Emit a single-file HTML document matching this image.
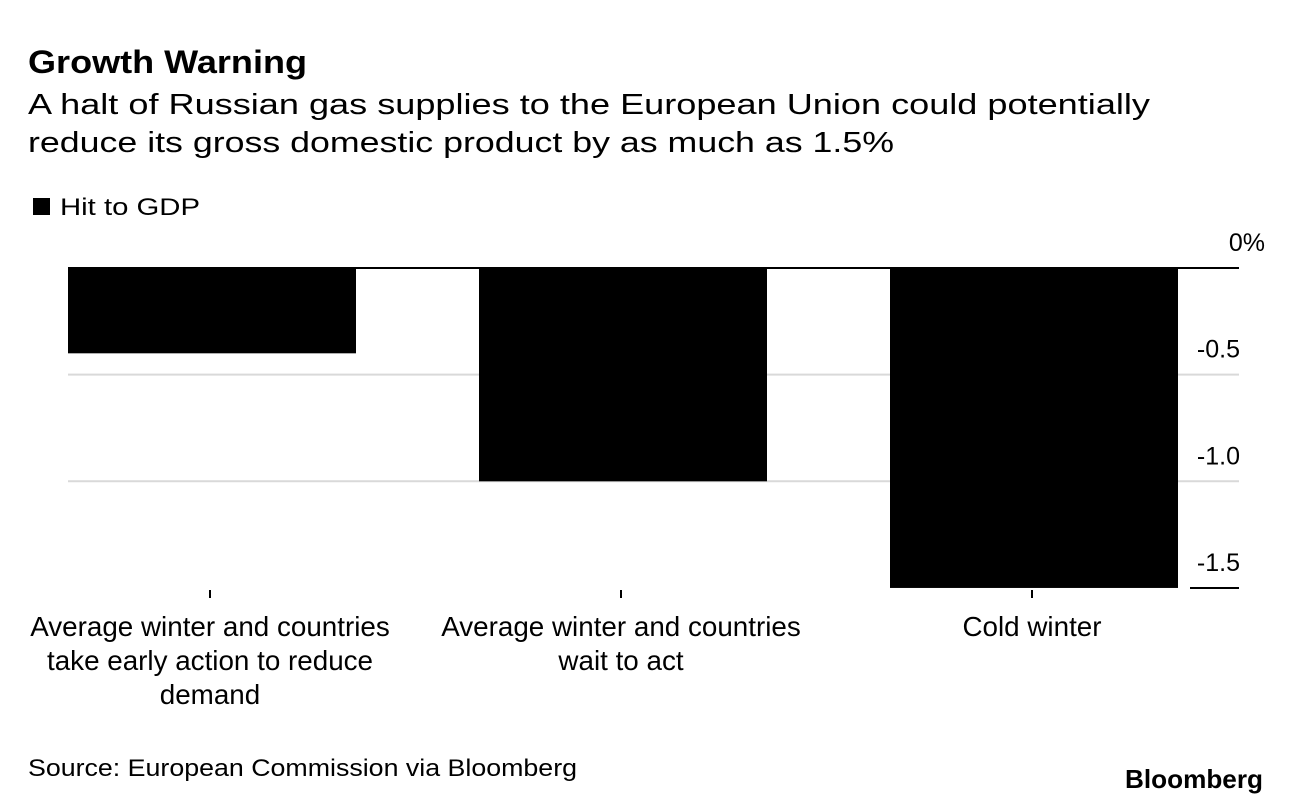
<!DOCTYPE html>
<html><head><meta charset="utf-8"><style>
body{margin:0;background:#fff;width:1292px;height:806px;overflow:hidden;font-family:"Liberation Sans",sans-serif;}
svg{position:absolute;left:0;top:0}
</style></head><body>
<svg width="1292" height="806">
<text x="28" y="73" font-size="32" font-weight="bold" textLength="279" lengthAdjust="spacingAndGlyphs">Growth Warning</text>
<text x="28" y="114" font-size="29" textLength="1122" lengthAdjust="spacingAndGlyphs">A halt of Russian gas supplies to the European Union could potentially</text>
<text x="28" y="152" font-size="29" textLength="866" lengthAdjust="spacingAndGlyphs">reduce its gross domestic product by as much as 1.5%</text>
<rect x="33" y="198" width="17" height="17" fill="#000"/>
<text x="60" y="215" font-size="24" textLength="140" lengthAdjust="spacingAndGlyphs">Hit to GDP</text>
<g id="grid"></g><g id="bars"></g><g id="cats"></g>
<text x="28" y="776" font-size="24" textLength="549" lengthAdjust="spacingAndGlyphs">Source: European Commission via Bloomberg</text>
<text x="1263" y="788" font-size="26" font-weight="bold" text-anchor="end" textLength="138" lengthAdjust="spacingAndGlyphs">Bloomberg</text>
</svg>
<script>
const categories=[["Average winter and countries","take early action to reduce","demand"],["Average winter and countries","wait to act"],["Cold winter"]];
const values=[-0.4,-1.0,-1.5];
const ticks=[0,-0.5,-1.0,-1.5];
const tickLabels=["0%","-0.5","-1.0","-1.5"];
const NS="http://www.w3.org/2000/svg";
const y=v=>268-v*213.3;
const x0=68,step=411,bw=288;
function mk(t,a,p){const e=document.createElementNS(NS,t);for(const k in a)e.setAttribute(k,a[k]);p.appendChild(e);return e;}
const grid=document.getElementById('grid'),bars=document.getElementById('bars'),cats=document.getElementById('cats');
ticks.forEach((t,i)=>{
  const last=i===ticks.length-1;
  const l=mk('line',{x1:last?1190:68,x2:1239,y1:y(t),y2:y(t),stroke:(i===0||last)?'#000':'#d9d9d9','stroke-width':2},grid);
  
  
  const tx=mk('text',{x:i===0?1265:1240,y:y(t)-17,'font-size':25,'text-anchor':'end'},grid);
  tx.textContent=tickLabels[i];
  
  
});
values.forEach((v,i)=>{
  const bx=x0+i*step;
  const r=mk('rect',{x:bx,y:y(0),width:bw,height:y(v)-y(0),fill:'#000'},bars);
  
  
  const cx=bx+bw/2-2;
  const tk=mk('line',{x1:cx,x2:cx,y1:590,y2:598,stroke:'#000','stroke-width':2},cats);
  
  
  categories[i].forEach((s,j)=>{
    const t=mk('text',{x:cx,y:636+j*34,'font-size':27.8,'text-anchor':'middle'},cats);
    t.textContent=s;
    
    
  });
});
</script>
</body></html>
